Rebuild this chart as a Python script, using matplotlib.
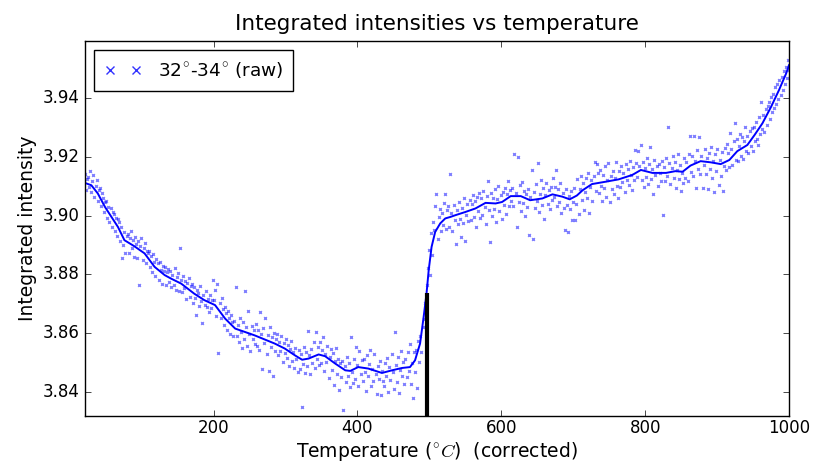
import numpy as np
import matplotlib
matplotlib.use("Agg")
import matplotlib.pyplot as plt

# smoothed curve (temperature, intensity)
smooth_T = [21, 30, 39, 49, 58, 67, 76, 90, 104, 118, 132, 141, 155, 173, 187, 202, 216, 230,
            243, 257, 271, 285, 299, 313, 323, 332, 346, 355, 369, 383, 390, 401, 415, 434,
            448, 462, 473, 480, 487, 492, 496, 499, 503, 508, 515, 522, 529, 536, 550, 564,
            578, 592, 601, 613, 627, 640, 657, 671, 685, 695, 705, 713, 726, 745, 763, 782,
            794, 810, 829, 842, 852, 863, 877, 891, 905, 917, 928, 942, 952, 963, 975, 986,
            996, 1000]
smooth_I = [3.9111, 3.9103, 3.9075, 3.9029, 3.8995, 3.8961, 3.8916, 3.8895, 3.8871, 3.8825,
            3.8797, 3.8785, 3.8768, 3.8734, 3.8712, 3.8695, 3.8649, 3.8615, 3.8604, 3.8592,
            3.8578, 3.8564, 3.8547, 3.8524, 3.8509, 3.8513, 3.8527, 3.8521, 3.8496, 3.8473,
            3.8471, 3.8484, 3.8479, 3.8464, 3.8473, 3.8481, 3.8484, 3.8507, 3.8564, 3.8655,
            3.8735, 3.8814, 3.8893, 3.8944, 3.8973, 3.8990, 3.8995, 3.9001, 3.9012, 3.9024,
            3.9043, 3.9041, 3.9046, 3.9066, 3.9066, 3.9052, 3.9058, 3.9072, 3.9064, 3.9055,
            3.9068, 3.9086, 3.9107, 3.9115, 3.9123, 3.9138, 3.9155, 3.9145, 3.9145, 3.9151,
            3.9149, 3.9170, 3.9185, 3.9181, 3.9175, 3.9189, 3.9219, 3.9240, 3.9274, 3.9314,
            3.9370, 3.9427, 3.9484, 3.9512]

# raw measurements, evenly spaced in temperature from 21 to 1000
raw_T_start, raw_T_end = 21, 1000
raw_I = [
    3.9142, 3.9087, 3.9125, 3.9131, 3.9098, 3.9150, 3.9079, 3.9118, 3.9139, 3.9064, 3.9101, 3.9122, 3.9049, 3.9087, 3.9093, 3.9031, 3.9075, 3.9058, 3.9012, 3.9046,
    3.9051, 3.8993, 3.9030, 3.8978, 3.9024, 3.8961, 3.9012, 3.9005, 3.8947, 3.8990, 3.8931, 3.8989, 3.8978, 3.8912, 3.8962, 3.8856, 3.8898, 3.8943, 3.8873, 3.8929,
    3.8938, 3.8871, 3.8922, 3.8946, 3.8889, 3.8915, 3.8860, 3.8927, 3.8902, 3.8857, 3.8913, 3.8765, 3.8896, 3.8924, 3.8849, 3.8890, 3.8905, 3.8838, 3.8879, 3.8873,
    3.8879, 3.8826, 3.8862, 3.8808, 3.8870, 3.8841, 3.8795, 3.8852, 3.8837, 3.8781, 3.8843, 3.8816, 3.8768, 3.8829, 3.8811, 3.8823, 3.8765, 3.8806, 3.8818, 3.8772,
    3.8812, 3.8757, 3.8799, 3.8764, 3.8820, 3.8748, 3.8791, 3.8803, 3.8742, 3.8889, 3.8781, 3.8739, 3.8794, 3.8752, 3.8777, 3.8715, 3.8769, 3.8788, 3.8723, 3.8760,
    3.8768, 3.8701, 3.8755, 3.8719, 3.8661, 3.8748, 3.8736, 3.8692, 3.8759, 3.8710, 3.8634, 3.8729, 3.8695, 3.8742, 3.8688, 3.8716, 3.8671, 3.8731, 3.8684, 3.8712,
    3.8781, 3.8712, 3.8746, 3.8659, 3.8768, 3.8531, 3.8703, 3.8652, 3.8719, 3.8681, 3.8627, 3.8690, 3.8668, 3.8611, 3.8675, 3.8652, 3.8598, 3.8661, 3.8639, 3.8590,
    3.8641, 3.8757, 3.8590, 3.8627, 3.8568, 3.8652, 3.8603, 3.8549, 3.8636, 3.8581, 3.8742, 3.8619, 3.8557, 3.8674, 3.8598, 3.8540, 3.8625, 3.8579, 3.8611, 3.8562,
    3.8631, 3.8556, 3.8609, 3.8542, 3.8673, 3.8595, 3.8478, 3.8617, 3.8566, 3.8650, 3.8528, 3.8594, 3.8469, 3.8620, 3.8553, 3.8587, 3.8455, 3.8601, 3.8538, 3.8579,
    3.8597, 3.8524, 3.8571, 3.8538, 3.8589, 3.8502, 3.8566, 3.8531, 3.8580, 3.8515, 3.8558, 3.8489, 3.8547, 3.8572, 3.8503, 3.8536, 3.8481, 3.8549, 3.8512, 3.8467,
    3.8542, 3.8478, 3.8530, 3.8347, 3.8493, 3.8551, 3.8465, 3.8536, 3.8489, 3.8608, 3.8524, 3.8459, 3.8546, 3.8497, 3.8569, 3.8480, 3.8602, 3.8512, 3.8554, 3.8491,
    3.8571, 3.8498, 3.8543, 3.8586, 3.8469, 3.8530, 3.8502, 3.8557, 3.8448, 3.8519, 3.8546, 3.8475, 3.8531, 3.8424, 3.8505, 3.8548, 3.8462, 3.8513, 3.8406, 3.8497,
    3.8451, 3.8506, 3.8339, 3.8488, 3.8432, 3.8519, 3.8455, 3.8497, 3.8415, 3.8586, 3.8468, 3.8429, 3.8511, 3.8443, 3.8552, 3.8490, 3.8421, 3.8538, 3.8461, 3.8509,
    3.8437, 3.8512, 3.8468, 3.8403, 3.8526, 3.8455, 3.8495, 3.8541, 3.8419, 3.8478, 3.8436, 3.8529, 3.8460, 3.8394, 3.8487, 3.8444, 3.8503, 3.8388, 3.8471, 3.8438,
    3.8421, 3.8497, 3.8452, 3.8516, 3.8398, 3.8483, 3.8441, 3.8529, 3.8466, 3.8409, 3.8605, 3.8490, 3.8432, 3.8517, 3.8396, 3.8474, 3.8538, 3.8455, 3.8502, 3.8427,
    3.8513, 3.8449, 3.8536, 3.8470, 3.8562, 3.8428, 3.8498, 3.8379, 3.8537, 3.8466, 3.8541, 3.8413, 3.8572, 3.8502, 3.8591, 3.8534, 3.8622, 3.8648, 3.8701, 3.8688,
    3.8762, 3.8821, 3.8883, 3.8798, 3.8940, 3.8866, 3.8978, 3.8949, 3.9034, 3.9074, 3.8921, 3.8996, 3.9022, 3.8947, 3.9010, 3.8968, 3.9041, 3.9072, 3.8955, 3.9018,
    3.9031, 3.8962, 3.9142, 3.9008, 3.8947, 3.9035, 3.8983, 3.8903, 3.9019, 3.8971, 3.9046, 3.8989, 3.8928, 3.9025, 3.8976, 3.9061, 3.8914, 3.9003, 3.9039, 3.8982,
    3.9052, 3.8986, 3.9039, 3.9071, 3.8995, 3.9048, 3.8961, 3.9063, 3.9014, 3.9077, 3.8990, 3.9058, 3.9003, 3.9084, 3.9029, 3.8972, 3.9066, 3.9119, 3.9018, 3.8911,
    3.9078, 3.8997, 3.9061, 3.9023, 3.9089, 3.8978, 3.9055, 3.9102, 3.9016, 3.9069, 3.8989, 3.9081, 3.9037, 3.9095, 3.9004, 3.9072, 3.9118, 3.9031, 3.9086, 3.9049,
    3.9092, 3.9034, 3.9211, 3.9075, 3.8961, 3.9199, 3.9046, 3.9103, 3.9017, 3.9114, 3.9041, 3.9083, 3.8998, 3.9072, 3.9029, 3.9091, 3.8933, 3.9064, 3.9155, 3.8921,
    3.9081, 3.9027, 3.9106, 3.9049, 3.9178, 3.9012, 3.9073, 3.9120, 3.9035, 3.9094, 3.8987, 3.9069, 3.9112, 3.9040, 3.9088, 3.9021, 3.9097, 3.9053, 3.9126, 3.9064,
    3.9096, 3.9154, 3.9031, 3.9089, 3.9047, 3.9112, 3.9008, 3.9075, 3.9026, 3.8951, 3.9091, 3.9037, 3.8944, 3.9068, 3.9022, 3.9083, 3.8983, 3.9046, 3.9095, 3.8986,
    3.9039, 3.9125, 3.9004, 3.9091, 3.9133, 3.9052, 3.9110, 3.9018, 3.9079, 3.9126, 3.9061, 3.9143, 3.9007, 3.9098, 3.9122, 3.9049, 3.9135, 3.9181, 3.9085, 3.9177,
    3.9143, 3.9078, 3.9156, 3.9101, 3.9049, 3.9138, 3.9092, 3.9167, 3.9064, 3.9121, 3.9178, 3.9047, 3.9134, 3.9090, 3.9152, 3.9073, 3.9129, 3.9183, 3.9101, 3.9058,
    3.9152, 3.9097, 3.9168, 3.9115, 3.9143, 3.9081, 3.9176, 3.9122, 3.9159, 3.9103, 3.9187, 3.9138, 3.9086, 3.9164, 3.9120, 3.9223, 3.9178, 3.9131, 3.9219, 3.9168,
    3.9239, 3.9120, 3.9182, 3.9096, 3.9163, 3.9131, 3.9197, 3.9108, 3.9174, 3.9233, 3.9125, 3.9158, 3.9072, 3.9189, 3.9137, 3.9168, 3.9101, 3.9176, 3.9143, 3.9116,
    3.9187, 3.9002, 3.9164, 3.9119, 3.9195, 3.9136, 3.9302, 3.9178, 3.9108, 3.9161, 3.9203, 3.9127, 3.9183, 3.9094, 3.9156, 3.9210, 3.9123, 3.9172, 3.9084, 3.9145,
    3.9112, 3.9196, 3.9127, 3.9182, 3.9119, 3.9208, 3.9269, 3.9148, 3.9201, 3.9133, 3.9272, 3.9187, 3.9092, 3.9224, 3.9158, 3.9266, 3.9141, 3.9203, 3.9095, 3.9172,
    3.9226, 3.9141, 3.9197, 3.9090, 3.9213, 3.9158, 3.9234, 3.9127, 3.9185, 3.9079, 3.9209, 3.9151, 3.9225, 3.9104, 3.9190, 3.9136, 3.9217, 3.9082, 3.9168, 3.9229,
    3.9156, 3.9243, 3.9212, 3.9164, 3.9281, 3.9225, 3.9173, 3.9252, 3.9316, 3.9190, 3.9261, 3.9184, 3.9238, 3.9279, 3.9203, 3.9267, 3.9192, 3.9255, 3.9301, 3.9218,
    3.9271, 3.9212, 3.9289, 3.9236, 3.9298, 3.9221, 3.9302, 3.9254, 3.9318, 3.9262, 3.9241, 3.9337, 3.9279, 3.9386, 3.9296, 3.9341, 3.9283, 3.9364, 3.9307, 3.9372,
    3.9388, 3.9329, 3.9402, 3.9351, 3.9415, 3.9366, 3.9436, 3.9381, 3.9449, 3.9398, 3.9462, 3.9410, 3.9473, 3.9428, 3.9491, 3.9446, 3.9507, 3.9469, 3.9528, 3.9495,
]

transition_T = 497
transition_I = 3.8735

x_ticks = [200, 400, 600, 800, 1000]
y_ticks = [3.84, 3.86, 3.88, 3.90, 3.92, 3.94]
x_limits = (21, 1000)
y_limits = (3.8317, 3.9594)

plt.style.use("classic")
plt.rcParams["figure.facecolor"] = "white"
plt.rcParams["savefig.facecolor"] = "white"

fig = plt.figure(figsize=(8.16, 4.66), dpi=100)
ax = fig.add_axes([0.104, 0.107, 0.863, 0.805])

raw_T = np.linspace(raw_T_start, raw_T_end, len(raw_I))
ax.plot(raw_T, raw_I, linestyle="none", marker="x", markersize=2, markeredgewidth=1,
        color="b", alpha=0.5, label=r"32$^{\circ}$-34$^{\circ}$ (raw)")
ax.plot(smooth_T, smooth_I, color="b", linewidth=1.4)
ax.vlines(transition_T, y_limits[0], transition_I, color="k", linewidth=3)

ax.set_xlim(*x_limits)
ax.set_ylim(*y_limits)
ax.set_xticks(x_ticks)
ax.set_yticks(y_ticks)
ax.ticklabel_format(useOffset=False, axis="y")
ax.set_yticklabels([f"{v:.2f}" for v in y_ticks])

ax.set_title("Integrated intensities vs temperature", fontsize=15.5, pad=8)
ax.set_xlabel(r"Temperature ($^{\circ}C$)  (corrected)", fontsize=13.5, labelpad=2)
ax.set_ylabel("Integrated intensity", fontsize=13.5, labelpad=4)
ax.tick_params(labelsize=12)
ax.tick_params(axis="x", pad=2)

leg = ax.legend(loc="upper left", numpoints=2, markerscale=3, fontsize=13.3,
                borderpad=0.55, handletextpad=0.9)
for h in leg.legend_handles:
    h.set_alpha(0.8)

fig.savefig("out.png", dpi=100)
